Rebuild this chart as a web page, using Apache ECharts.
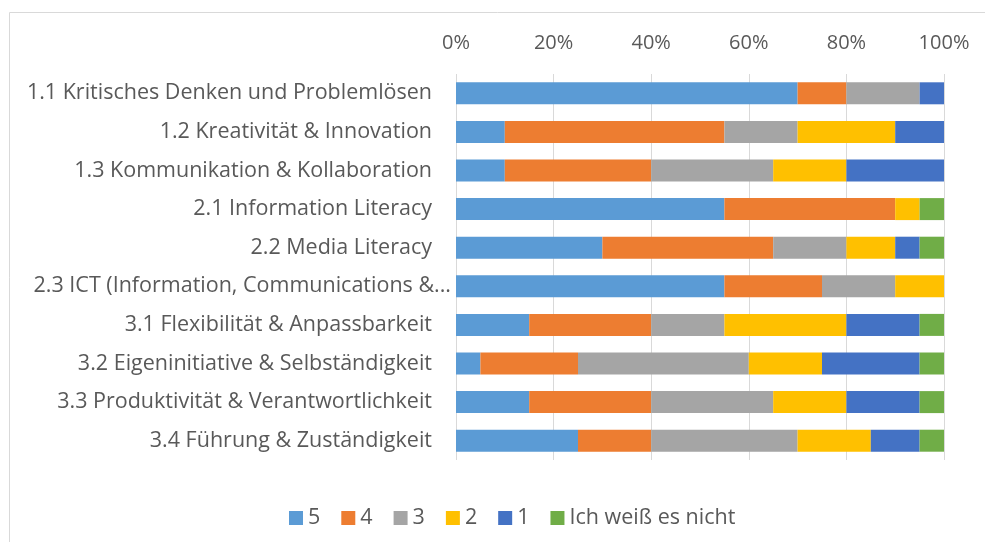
<!DOCTYPE html>
<html><head><meta charset="utf-8">
<script src="https://cdn.jsdelivr.net/npm/echarts@6/dist/echarts.min.js"></script>
<style>html,body{margin:0;padding:0;background:#fff}#c{width:985px;height:542px}</style>
</head><body><div id="c"></div>
<script>
const categories = [
  "1.1 Kritisches Denken und Problemlösen",
  "1.2 Kreativität & Innovation",
  "1.3 Kommunikation & Kollaboration",
  "2.1 Information Literacy",
  "2.2 Media Literacy",
  "2.3 ICT (Information, Communications & Technology) Literacy",
  "3.1 Flexibilität & Anpassbarkeit",
  "3.2 Eigeninitiative & Selbständigkeit",
  "3.3 Produktivität & Verantwortlichkeit",
  "3.4 Führung & Zuständigkeit"
];
const seriesNames = ["5", "4", "3", "2", "1", "Ich weiß es nicht"];
const v5 = [70, 10, 10, 55, 30, 55, 15, 5, 15, 25];
const v4 = [10, 45, 30, 35, 35, 20, 25, 20, 25, 15];
const v3 = [15, 15, 25, 0, 15, 15, 15, 35, 25, 30];
const v2 = [0, 20, 15, 5, 10, 10, 25, 15, 15, 15];
const v1 = [5, 10, 20, 0, 5, 0, 15, 20, 15, 10];
const vNA = [0, 0, 0, 5, 5, 0, 5, 5, 5, 5];
const tickValues = [0, 20, 40, 60, 80, 100];

const values = [v5, v4, v3, v2, v1, vNA];
const colors = ["#5B9BD5", "#ED7D31", "#A5A5A5", "#FFC000", "#4472C4", "#70AD47"];
const font = "'Open Sans', sans-serif";
const fs = 21.5;

function labelFmt(v) {
  const t = echarts.format.truncateText(v, 424, fs + "px " + font, '...');
  return t !== v ? '{l|' + t.replace(/\s+\.\.\.$/, '...') + '}' : '{n|' + v + '}';
}

const chart = echarts.init(document.getElementById('c'));
chart.setOption({
  animation: false,
  color: colors,
  graphic: [{
    type: 'rect', left: 7, top: 10,
    shape: {width: 1000, height: 560},
    style: {fill: 'none', stroke: '#d9d9d9', lineWidth: 1},
    silent: true, z: -1
  }],
  grid: {left: 456, right: 41, top: 74, bottom: 82, containLabel: false},
  xAxis: {
    type: 'value', position: 'top', min: 0, max: 100, interval: 20,
    axisLine: {show: false}, axisTick: {show: false},
    splitLine: {lineStyle: {color: '#d9d9d9', width: 1}},
    axisLabel: {formatter: v => tickValues.includes(v) ? v + '%' : '', color: '#595959', fontSize: 20, fontFamily: font, margin: 21}
  },
  yAxis: {
    type: 'category', data: categories, inverse: true,
    axisLine: {show: false}, axisTick: {show: false},
    axisLabel: {color: '#595959', fontSize: fs, fontFamily: font, margin: 5,
      formatter: labelFmt,
      rich: {
        n: {color: '#595959', fontSize: fs, fontFamily: font, padding: [0, 19, 0, 0]},
        l: {color: '#595959', fontSize: fs, fontFamily: font, padding: [0, 0, 0, 0]}
      }}
  },
  legend: {
    data: seriesNames, left: 284, top: 502, icon: 'rect',
    itemWidth: 14, itemHeight: 14, itemGap: 21,
    textStyle: {color: '#595959', fontSize: fs, fontFamily: font}
  },
  series: seriesNames.map((n, i) => ({
    name: n, type: 'bar', stack: 'total', barWidth: 22,
    data: values[i], itemStyle: {color: colors[i]}
  }))
});
</script></body></html>
